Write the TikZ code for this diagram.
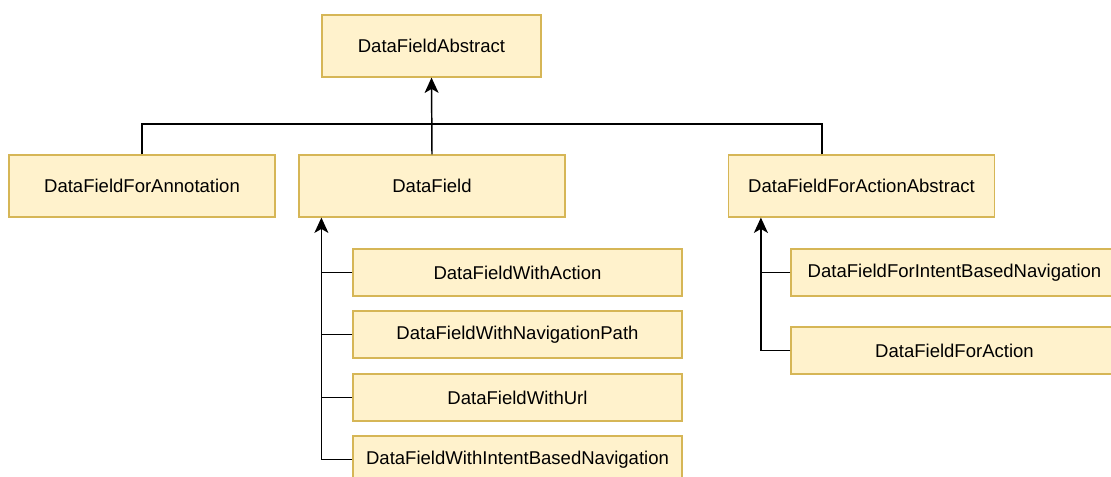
\documentclass[tikz,border=0pt]{standalone}
\usepackage{fontspec}
\setmainfont{Liberation Sans}
\usetikzlibrary{arrows.meta,calc}
\definecolor{boxfill}{HTML}{FFF2CC}
\definecolor{boxline}{HTML}{D6B656}
\tikzset{
	klasse/.style={draw=boxline, fill=boxfill, line width=0.9pt, inner sep=0pt,
		font=\fontsize{13.9}{16}\selectfont},
	gross/.style={klasse, minimum width=199.5pt, minimum height=46.5pt},
	klein/.style={klasse, minimum width=246.75pt, minimum height=35.25pt},
	erbt/.style={line width=1.1pt, -{Stealth[length=11.5pt, width=10.5pt, inset=3pt]}},
	linie/.style={line width=1.1pt}
}
\begin{document}
\begin{tikzpicture}[x=0.75pt, y=-0.75pt]
	\useasboundingbox (0,0) rectangle (1111,477);
	% Oberste Ebene
	\node[klasse, minimum width=164.25pt, minimum height=46.5pt] (abstract) at (431.5,46) {DataFieldAbstract};
	% Zweite Ebene
	\node[gross] (annotation) at (142,186) {DataFieldForAnnotation};
	\node[gross] (field) at (432,186) {DataField};
	\node[gross] (actionabstract) at (861.5,186) {DataFieldForActionAbstract};
	% Unterklassen von DataField
	\foreach \name/\txt/\y in {withaction/DataFieldWithAction/272.5,
		withnavpath/DataFieldWithNavigationPath/334.5,
		withurl/DataFieldWithUrl/397.5,
		withintent/DataFieldWithIntentBasedNavigation/459.5}
		\node[klein] (\name) at (517.5,\y) {\txt};
	% Unterklassen von DataFieldForActionAbstract
	\node[klasse, minimum width=245.25pt, minimum height=35.25pt] (forintent) at (954.5,272.5) {DataFieldForIntentBasedNavigation};
	\node[klasse, minimum width=245.25pt, minimum height=35.25pt] (foraction) at (954.5,350.5) {DataFieldForAction};
	% Verbindungen oben
	\coordinate (bus) at (432,124);
	\coordinate (actiontop) at ($(actionabstract.north west)+(94,0)$);
	\draw[erbt] (field.north) -- (abstract.south);
	\draw[linie] (annotation.north) |- (bus);
	\draw[linie] (actiontop) |- (bus);
	% Verbindungen links
	\coordinate (fieldin) at ($(field.south west)+(23,0)$);
	\draw[erbt] (withintent.west) -| (fieldin);
	\foreach \name in {withaction,withnavpath,withurl}
		\draw[linie] (\name.west) -- (\name.west -| fieldin);
	% Verbindungen rechts
	\coordinate (actionin) at ($(actionabstract.south west)+(33,0)$);
	\draw[erbt] (foraction.west) -| (actionin);
	\draw[linie] (forintent.west) -- (forintent.west -| actionin);
\end{tikzpicture}
\end{document}
